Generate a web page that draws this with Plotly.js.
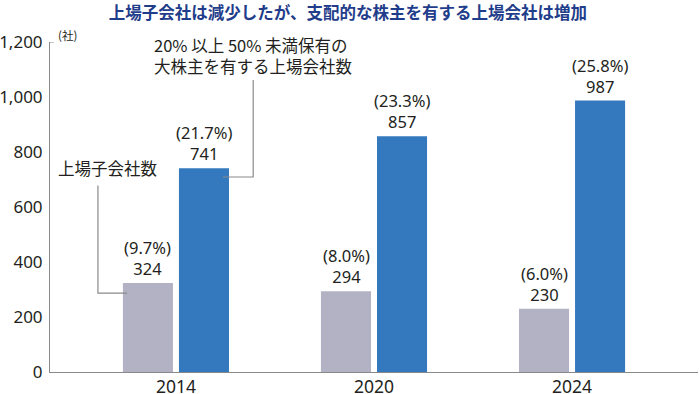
<!DOCTYPE html>
<html>
<head>
<meta charset="utf-8">
<script src="https://cdn.plot.ly/plotly-3.0.1.min.js"></script>
<style>html,body{margin:0;padding:0;background:#fff;}#chart{width:700px;height:394px;}</style>
</head>
<body>
<div id="chart"></div>
<script>
const categories = ['2014', '2020', '2024'];
const subsidiaryCounts = [324, 294, 230];
const subsidiaryShares = ['9.7%', '8.0%', '6.0%'];
const majorHolderCounts = [741, 857, 987];
const majorHolderShares = ['21.7%', '23.3%', '25.8%'];
const yTickValues = [0, 200, 400, 600, 800, 1000, 1200];
const yTickLabels = ['0', '200', '400', '600', '800', '1,000', '1,200'];

const FONT = '"Noto Sans CJK JP", "Noto Sans", sans-serif';
const NUMFONT = '"Noto Sans", "Noto Sans CJK JP", sans-serif';
const TXT = '#231f20';
const GRAY = '#b3b2c4';
const BLUE = '#3478be';
const LINE = '#8a8a8a';

const traces = [
  {type: 'bar', name: '上場子会社数', x: categories, y: subsidiaryCounts,
   marker: {color: GRAY}, hoverinfo: 'x+y'},
  {type: 'bar', name: '20% 以上 50% 未満保有の大株主を有する上場会社数', x: categories, y: majorHolderCounts,
   marker: {color: BLUE}, hoverinfo: 'x+y'}
];

const annotations = [];
categories.forEach((c, i) => {
  annotations.push({x: i, y: subsidiaryCounts[i], xref: 'x', yref: 'y', xshift: -28, yshift: 1,
    yanchor: 'bottom', xanchor: 'center', showarrow: false, align: 'center',
    text: '(' + subsidiaryShares[i] + ')<br>' + subsidiaryCounts[i],
    font: {family: NUMFONT, size: 16.5, color: TXT}});
  annotations.push({x: i, y: majorHolderCounts[i], xref: 'x', yref: 'y', xshift: 28, yshift: 1,
    yanchor: 'bottom', xanchor: 'center', showarrow: false, align: 'center',
    text: '(' + majorHolderShares[i] + ')<br>' + majorHolderCounts[i],
    font: {family: NUMFONT, size: 16.5, color: TXT}});
});
annotations.push({x: 0.39, y: 1062, xref: 'x', yref: 'y', yanchor: 'bottom', xanchor: 'center',
  showarrow: false, align: 'left', text: '20% 以上 50% 未満保有の<br>大株主を有する上場会社数',
  font: {family: FONT, size: 16.5, color: TXT}});
annotations.push({x: -0.606, y: 691, xref: 'x', yref: 'y', yanchor: 'bottom', xanchor: 'left',
  showarrow: false, text: '上場子会社数', font: {family: FONT, size: 16.5, color: TXT}});
annotations.push({x: (56 - 50) / 648, y: (394 - 25 - 22) / 330, xref: 'paper', yref: 'paper',
  xanchor: 'left', yanchor: 'top', showarrow: false, text: '(社)',
  font: {family: FONT, size: 11.5, color: TXT}});

const layout = {
  width: 700, height: 394,
  margin: {l: 50, r: 2, t: 42, b: 22, pad: 0},
  paper_bgcolor: '#fff', plot_bgcolor: '#fff',
  showlegend: false,
  barmode: 'group', bargap: 0.434, bargroupgap: 0.107,
  title: {text: '上場子会社は減少したが、支配的な株主を有する上場会社は増加',
    font: {family: FONT, size: 16.5, color: '#1f3d8a', weight: 'bold'},
    x: 0.497, xanchor: 'center', y: 0.967, yanchor: 'middle'},
  xaxis: {type: 'category', range: [-0.636, 2.636], showgrid: false, zeroline: false,
    showline: true, linecolor: LINE, linewidth: 1, ticks: '', automargin: false,
    ticklabelstandoff: -1,
    tickfont: {family: NUMFONT, size: 17.5, color: TXT}},
  yaxis: {range: [0, 1200], showgrid: false, zeroline: false, showline: true, linecolor: LINE,
    linewidth: 1, ticks: '', tickvals: yTickValues, ticktext: yTickLabels, automargin: false,
    ticklabelstandoff: 3, tickfont: {family: NUMFONT, size: 17, color: TXT}},
  shapes: [
    {type: 'line', xref: 'paper', yref: 'y', x0: 0, x1: 0.006, y0: 1200, y1: 1200, line: {color: LINE, width: 1}},
    {type: 'path', xref: 'x', yref: 'y', path: 'M 0.237,709 L 0.39,709 L 0.39,1062', line: {color: LINE, width: 1.2}},
    {type: 'path', xref: 'x', yref: 'y', path: 'M -0.394,678 L -0.394,287 L -0.247,287', line: {color: LINE, width: 1.2}}
  ],
  annotations: annotations
};

Plotly.newPlot('chart', traces, layout, {displayModeBar: false, staticPlot: true});
</script>
</body>
</html>
